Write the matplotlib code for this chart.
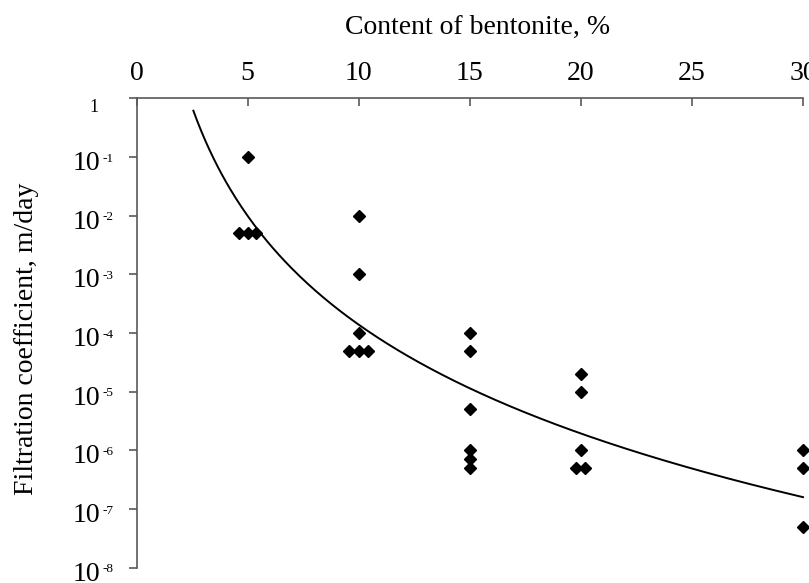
import numpy as np
import matplotlib
matplotlib.use("Agg")
import matplotlib.pyplot as plt

plt.rcParams['font.family'] = ['Liberation Serif', 'DejaVu Serif']

# Data (content of bentonite %, filtration coefficient m/day)
bentonite = [5.0, 4.6, 5.0, 5.4,
             10.0, 10.0, 10.0, 9.58, 10.0, 10.42,
             15.0, 15.0, 15.0, 15.0, 15.0, 15.0,
             20.0, 20.0, 20.0, 19.79, 20.21,
             30.0, 30.0, 30.0]
filtration = [1e-1, 5e-3, 5e-3, 5e-3,
              1e-2, 1e-3, 1e-4, 5e-5, 5e-5, 5e-5,
              1e-4, 5e-5, 5e-6, 1e-6, 7e-7, 5e-7,
              2e-5, 1e-5, 1e-6, 5e-7, 5e-7,
              1e-6, 5e-7, 5e-8]
# nominal contents used for the power trend line
trend_content = [5, 5, 5, 5,
                 10, 10, 10, 10, 10, 10,
                 15, 15, 15, 15, 15, 15,
                 20, 20, 20, 20, 20,
                 30, 30, 30]
trend_range = [2.56, 30.0]

x_ticks = [0, 5, 10, 15, 20, 25, 30]
y_exponents = [-8, -7, -6, -5, -4, -3, -2, -1, 0]

W, H = 809, 583
fig = plt.figure(figsize=(W / 100, H / 100), dpi=100)
left, right, top, bottom = 136.5, 803.0, 98.3, 567.7
ax = fig.add_axes([left / W, 1 - bottom / H, (right - left) / W, (bottom - top) / H])

ax.set_yscale('log')
ax.set_xlim(0, 30)
ax.set_ylim(1e-8, 1)

ax.plot(bentonite, filtration, linestyle='none', marker='D', markersize=6.6,
        color='black', clip_on=False, zorder=3)

# power trend line fitted to the data
b, a = np.polyfit(np.log10(trend_content), np.log10(filtration), 1)
xt = np.linspace(trend_range[0], trend_range[1], 300)
ax.plot(xt, 10 ** (a + b * np.log10(xt)), color='black', linewidth=1.4,
        clip_on=False, zorder=2)

spine_color = '#595959'
for s in ['right', 'bottom']:
    ax.spines[s].set_visible(False)
for s in ['left', 'top']:
    ax.spines[s].set_color(spine_color)
    ax.spines[s].set_linewidth(1.2)

ax.xaxis.tick_top()
ax.set_xticks(x_ticks)
ax.set_xticklabels([str(v) for v in x_ticks])
ax.tick_params(axis='x', direction='in', length=6, width=1.2, color=spine_color,
               labelsize=20, pad=8.5)

y_ticks = [10.0 ** e for e in y_exponents]
ax.set_yticks(y_ticks)
ax.yaxis.set_minor_locator(matplotlib.ticker.NullLocator())
ax.tick_params(axis='y', direction='out', length=6, width=1.2, color=spine_color,
               labelleft=False)

# y tick labels: "10" with a small superscript exponent, "1" at the top
tr = ax.get_yaxis_transform()
for e, v in zip(y_exponents, y_ticks):
    if e == 0:
        ax.annotate('1', xy=(0, v), xycoords=tr, xytext=(-30.6, -9.6),
                    textcoords='offset points', ha='center', va='baseline',
                    fontsize=13, annotation_clip=False)
    else:
        ax.annotate('10', xy=(0, v), xycoords=tr, xytext=(-26.3, -9.4),
                    textcoords='offset points', ha='right', va='baseline',
                    fontsize=20, annotation_clip=False)
        ax.annotate(f'-{-e}', xy=(0, v), xycoords=tr, xytext=(-24.8, -3.4),
                    textcoords='offset points', ha='left', va='baseline',
                    fontsize=9.5, annotation_clip=False)

fig.text(477.5 / W, 1 - 27 / H, 'Content of bentonite, %', ha='center', va='center',
         fontsize=20)
fig.text(27 / W, 1 - 339 / H, 'Filtration coefficient, m/day', ha='center', va='center',
         rotation=90, fontsize=20)

fig.savefig('out.png', dpi=100)
